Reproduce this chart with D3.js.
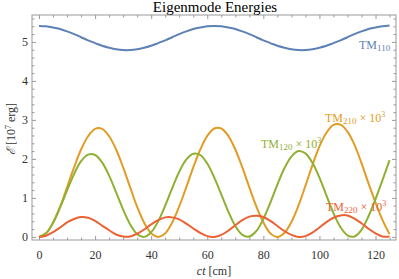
<!DOCTYPE html>
<html>
<head>
<meta charset="utf-8">
<script src="https://cdn.jsdelivr.net/npm/d3@7"></script>
<style>
  body { margin: 0; background: #fff; }
  svg { font-family: "Liberation Serif", serif; }
</style>
</head>
<body>
<svg id="plot" width="399" height="279"></svg>
<script>
// ct [cm], sampled every 2.5 cm
let ct = d3.range(0, 125.01, 2.5)

// energies
let tm110 = [5.41,5.40,5.37,5.33,5.27,5.20,5.12,5.04,4.97,4.90,4.85,4.81,4.79,
             4.79,4.81,4.85,4.90,4.97,5.04,5.12,5.20,5.27,5.33,5.37,5.40,5.41,
             5.40,5.37,5.33,5.27,5.20,5.12,5.04,4.97,4.90,4.85,4.81,4.79,
             4.79,4.81,4.85,4.90,4.97,5.04,5.12,5.20,5.27,5.33,5.37,5.40,5.42]
let tm210 = [0,0.09,0.36,0.77,1.27,1.78,2.24,2.58,2.77,2.77,2.58,2.24,1.78,1.27,0.77,0.36,0.09,
             0,0.09,0.37,0.78,1.27,1.78,2.24,2.59,2.78,2.78,2.59,2.24,1.78,1.27,0.78,0.37,0.09,
             0,0.10,0.38,0.80,1.31,1.84,2.32,2.67,2.87,2.88,2.70,2.36,1.89,1.37,0.88,0.43,0.07]
let tm120 = [0,0.09,0.36,0.75,1.19,1.61,1.94,2.11,2.10,1.91,1.57,1.14,0.70,0.32,0.07,0.00,
             0.12,0.40,0.80,1.25,1.67,1.98,2.13,2.10,1.88,1.52,1.09,0.65,0.28,0.05,0.01,
             0.15,0.46,0.88,1.34,1.76,2.06,2.20,2.14,1.90,1.52,1.06,0.61,0.25,0.04,0.01,
             0.18,0.53,0.97,1.46,1.97]
let tm220 = [0,0.03,0.12,0.24,0.37,0.46,0.51,0.49,0.41,0.29,0.17,0.06,0.01,
             0.01,0.08,0.19,0.32,0.43,0.50,0.50,0.45,0.34,0.22,0.10,0.02,0.00,
             0.05,0.16,0.30,0.43,0.52,0.54,0.51,0.41,0.28,0.15,0.05,0.00,
             0.02,0.11,0.24,0.38,0.49,0.55,0.55,0.47,0.35,0.21,0.09,0.01,0.01]

let xTicks = [0,20,40,60,80,100,120]
let yTicks = [0,1,2,3,4,5]

let series = [
  {name: "110", vals: tm110, color: "#5E81B5", scaled: false, lx: 359, ly: 49},
  {name: "210", vals: tm210, color: "#E19C24", scaled: true,  lx: 325, ly: 122},
  {name: "120", vals: tm120, color: "#8FB032", scaled: true,  lx: 261, ly: 148},
  {name: "220", vals: tm220, color: "#EB6235", scaled: true,  lx: 326, ly: 211}
]

let svg = d3.select("#plot")
let pLeft = 32, pRight = 396, pTop = 15, pBottom = 240

let xScale = d3.scaleLinear().domain([-2.5, 127.3]).range([pLeft, pRight])
let yScale = d3.scaleLinear().domain([-0.08, 5.69]).range([pBottom, pTop])

let frameColor = "#9a9a9a"
let labelColor = "#333"

// major and minor ticks, all four sides, pointing inward
function styleAxis(g) {
  g.select(".domain").remove()
  g.selectAll("line").attr("stroke", frameColor)
  g.selectAll("text").attr("fill", labelColor).style("font-size", "12px")
    .style("font-family", "Liberation Serif")
}
let xMinor = d3.range(0, 126, 5).filter(v => v % 20 != 0)
let yMinor = d3.range(0, 5.61, 0.2).filter(v => Math.abs(v - Math.round(v)) > 0.01)

svg.append("g").attr("transform", `translate(0,${pBottom})`)
  .call(d3.axisBottom(xScale).tickValues(xTicks).tickSize(-4).tickSizeOuter(0).tickPadding(10))
  .call(styleAxis)
svg.append("g").attr("transform", `translate(0,${pBottom})`)
  .call(d3.axisBottom(xScale).tickValues(xMinor).tickSize(-2.5).tickFormat(""))
  .call(styleAxis)
svg.append("g").attr("transform", `translate(0,${pTop})`)
  .call(d3.axisTop(xScale).tickValues(xTicks).tickSize(-4).tickFormat(""))
  .call(styleAxis)
svg.append("g").attr("transform", `translate(0,${pTop})`)
  .call(d3.axisTop(xScale).tickValues(xMinor).tickSize(-2.5).tickFormat(""))
  .call(styleAxis)

svg.append("g").attr("transform", `translate(${pLeft},0)`)
  .call(d3.axisLeft(yScale).tickValues(yTicks).tickSize(-4).tickPadding(4)
    .tickFormat(d3.format("d")))
  .call(styleAxis)
svg.append("g").attr("transform", `translate(${pLeft},0)`)
  .call(d3.axisLeft(yScale).tickValues(yMinor).tickSize(-2.5).tickFormat(""))
  .call(styleAxis)
svg.append("g").attr("transform", `translate(${pRight},0)`)
  .call(d3.axisRight(yScale).tickValues(yTicks).tickSize(-4).tickFormat(""))
  .call(styleAxis)
svg.append("g").attr("transform", `translate(${pRight},0)`)
  .call(d3.axisRight(yScale).tickValues(yMinor).tickSize(-2.5).tickFormat(""))
  .call(styleAxis)

svg.append("rect")
  .attr("x", pLeft).attr("y", pTop)
  .attr("width", pRight - pLeft).attr("height", pBottom - pTop)
  .attr("fill", "none").attr("stroke", frameColor)

// curves
let line = d3.line()
  .x((d, i) => xScale(ct[i]))
  .y(d => yScale(d))
  .curve(d3.curveCatmullRom)

svg.selectAll("path.curve")
  .data(series)
  .enter()
  .append("path")
  .attr("class", "curve")
  .attr("d", s => line(s.vals))
  .attr("stroke", s => s.color)
  .attr("stroke-width", 2)
  .attr("fill", "none")

// curve labels
series.forEach(function(s) {
  let t = svg.append("text")
    .attr("x", s.lx).attr("y", s.ly)
    .attr("fill", s.color)
    .style("font-size", "12px")
  t.append("tspan").text("TM")
  t.append("tspan").attr("dy", 2).style("font-size", "9px").text(s.name)
  if (s.scaled) {
    t.append("tspan").attr("dy", -2).text(" × 10")
    t.append("tspan").attr("dy", -5).style("font-size", "8px").text("3")
  }
})

// title and axis labels
svg.append("text")
  .attr("x", 215).attr("y", 12)
  .attr("text-anchor", "middle")
  .style("font-size", "15px")
  .text("Eigenmode Energies")

let xl = svg.append("text")
  .attr("x", 214).attr("y", 275)
  .attr("text-anchor", "middle")
  .attr("fill", labelColor)
  .style("font-size", "12px")
xl.append("tspan").style("font-style", "italic").text("ct")
xl.append("tspan").text(" [cm]")

let yl = svg.append("text")
  .attr("transform", "translate(15,129) rotate(-90)")
  .attr("text-anchor", "middle")
  .attr("fill", labelColor)
  .style("font-size", "12px")
yl.append("tspan").style("font-style", "italic").text("ℰ")
yl.append("tspan").text(" [10")
yl.append("tspan").attr("dy", -4).style("font-size", "8px").text("7")
yl.append("tspan").attr("dy", 4).text(" erg]")
</script>
</body>
</html>
